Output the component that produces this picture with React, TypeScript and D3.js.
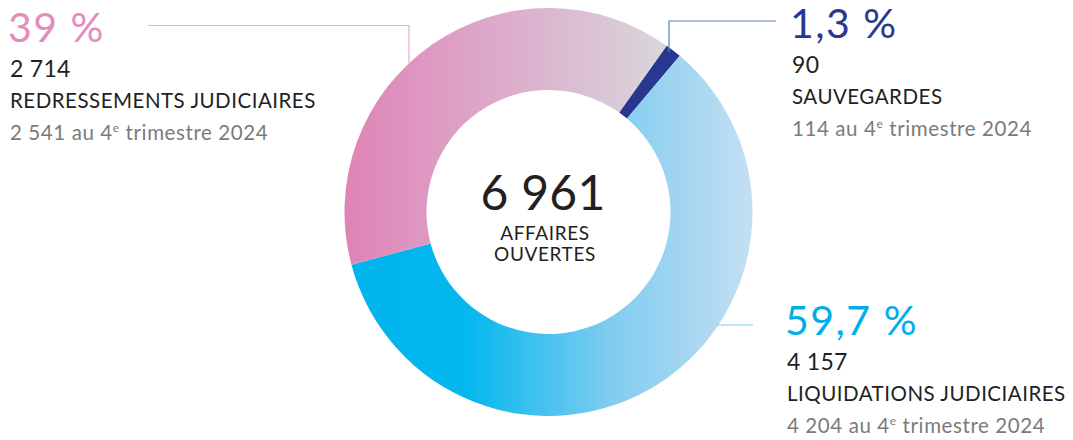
import * as d3 from "d3";
import { useEffect, useRef } from "react";

// values
const categories = ["SAUVEGARDES", "LIQUIDATIONS JUDICIAIRES", "REDRESSEMENTS JUDICIAIRES"];
const counts = [90, 4157, 2714];
const countLabels = ["90", "4 157", "2 714"];
const shareLabels = ["1,3 %", "59,7 %", "39 %"];
const previousLabels = ["114", "4 204", "2 541"];
const totalLabel = "6 961";
const centerLines = ["AFFAIRES", "OUVERTES"];

const W = 1073, H = 440;
const FONT = "Lato, 'Open Sans', sans-serif";

const App = () => {
  const ref = useRef<SVGSVGElement>(null);

  useEffect(() => {
    const svg = d3.select(ref.current);
    svg.selectAll("*").remove();

    const cx = 548.5, cy = 212, rOut = 204, rIn = 122;
    const startAngle = (35.4 * Math.PI) / 180;

    const defs = svg.append("defs");
    // gradients are in the donut group's space (origin at the centre)
    const grad = (id: string, x1: number, x2: number, stops: [number, string][]) => {
      const g = defs.append("linearGradient").attr("id", id)
        .attr("gradientUnits", "userSpaceOnUse")
        .attr("x1", x1 - cx).attr("x2", x2 - cx).attr("y1", 0).attr("y2", 0);
      stops.forEach(([o, c]) => g.append("stop").attr("offset", o).attr("stop-color", c));
    };
    grad("gBlue", 345, 752, [[0, "#00b4ec"], [0.3, "#04b7ee"], [0.65, "#7fccf0"], [1, "#c4dff2"]]);
    grad("gPink", 345, 665, [[0, "#df84b6"], [0.5, "#dcaccb"], [1, "#d9d6da"]]);

    const fills = ["#283891", "url(#gBlue)", "url(#gPink)"];

    const pie = d3.pie<number>().sort(null).value((d) => d)
      .startAngle(startAngle).endAngle(startAngle + 2 * Math.PI);
    const arcs = pie(counts);
    const arc = d3.arc<d3.PieArcDatum<number>>().innerRadius(rIn).outerRadius(rOut);

    const g = svg.append("g").attr("transform", `translate(${cx},${cy})`);
    g.selectAll("path").data(arcs).enter().append("path")
      .attr("d", arc)
      .attr("fill", (_, i) => fills[i]);

    // leader lines
    const outerY = (x: number, sign: number) => cy + sign * Math.sqrt(rOut * rOut - (x - cx) ** 2);
    const navyMid = (arcs[0].startAngle + arcs[0].endAngle) / 2;
    const nx = 669;
    const ny = cy - (rOut - 2) * Math.cos(navyMid);
    svg.append("path").attr("d", `M${nx},${ny}V21H776`)
      .attr("fill", "none").attr("stroke", "#5b7dc0").attr("stroke-width", 1.2);
    const px = 409;
    svg.append("path").attr("d", `M${px},${outerY(px, -1)}V25.5H148`)
      .attr("fill", "none").attr("stroke", "#f0a8cf").attr("stroke-width", 1.2);
    const by = 325;
    const bx = cx + Math.sqrt(rOut * rOut - (by - cy) ** 2);
    svg.append("path").attr("d", `M${bx - 2},${by}H753`)
      .attr("fill", "none").attr("stroke", "#7fcdf0").attr("stroke-width", 1.2);

    // labels
    const labelPos = [
      { x: 792, y: 38, color: "#283891" },
      { x: 787, y: 335, color: "#00aeea" },
      { x: 10, y: 42, color: "#e58bbf" },
    ];
    labelPos.forEach((p, i) => {
      const t = svg.append("g").attr("font-family", FONT);
      t.append("text").attr("x", p.x - 2).attr("y", p.y)
        .attr("font-size", 41).attr("letter-spacing", 1.5).attr("fill", p.color).text(shareLabels[i]);
      t.append("text").attr("x", p.x).attr("y", p.y + 35)
        .attr("font-size", 23).attr("letter-spacing", 0.3).attr("fill", "#231f20").text(countLabels[i]);
      t.append("text").attr("x", p.x).attr("y", p.y + 66)
        .attr("font-size", 20.5).attr("letter-spacing", 0.5).attr("fill", "#231f20").text(categories[i]);
      const prev = t.append("text").attr("x", p.x).attr("y", p.y + 98)
        .attr("font-size", 20.5).attr("letter-spacing", 0.6).attr("fill", "#7b7b7b");
      prev.append("tspan").text(`${previousLabels[i]} au 4`);
      prev.append("tspan").attr("font-size", 12).attr("dy", -8).text("e");
      prev.append("tspan").attr("dy", 8).text(" trimestre 2024");
    });

    // center
    const c = svg.append("g").attr("font-family", FONT)
      .attr("text-anchor", "middle").attr("fill", "#231f20");
    c.append("text").attr("x", 543).attr("y", 210).attr("font-size", 48).attr("letter-spacing", 0.3).text(totalLabel);
    centerLines.forEach((l, i) => {
      c.append("text").attr("x", 545).attr("y", 240 + i * 21).attr("font-size", 19)
        .attr("letter-spacing", 0.6).text(l);
    });
  }, []);

  return (
    <svg ref={ref} width={W} height={H}
      style={{ position: "absolute", left: 0, top: 0, background: "#fff" }} />
  );
};

export default App;
